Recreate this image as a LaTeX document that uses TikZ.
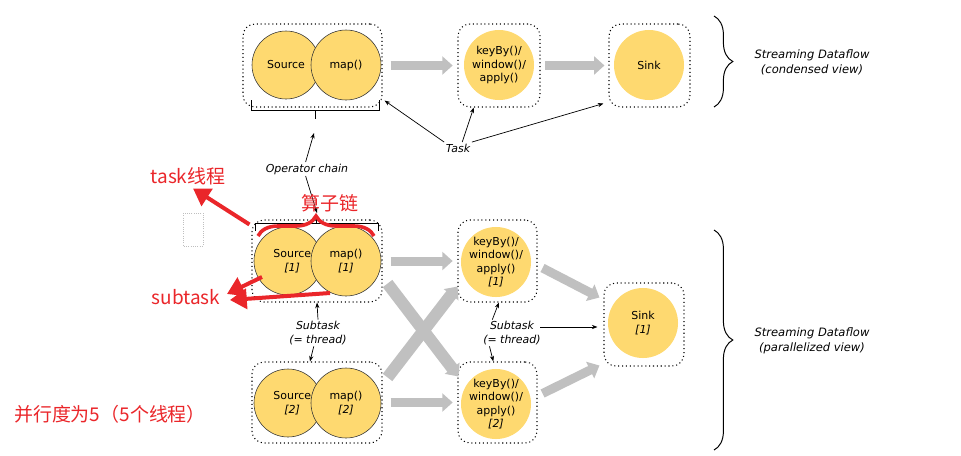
\documentclass[tikz,border=0pt]{standalone}
\usepackage{fontspec}
\setmainfont{DejaVu Sans}
\newfontfamily\cjk{Noto Sans CJK SC}
\usetikzlibrary{positioning,calc,arrows.meta,decorations.pathreplacing}

\definecolor{opyellow}{RGB}{254,217,112}
\definecolor{flowgray}{RGB}{192,192,192}
\definecolor{markred}{RGB}{234,38,42}

\tikzset{
    taskbox/.style={draw, dotted, line width=0.75pt, rounded corners=0.3cm,
        minimum width=2.05cm, minimum height=2.075cm, inner sep=0pt},
    opcircle/.style={circle, fill=opyellow, minimum size=1.75cm, inner sep=0pt},
    opring/.style={opcircle, draw=black!80, line width=0.4pt},
    optext/.style={align=center, inner sep=0pt, font=\fontsize{7.8}{9.6}\selectfont},
    lbl/.style={align=center, inner sep=1pt, font=\fontsize{7.8}{9.6}\selectfont\itshape},
    viewlbl/.style={align=center, inner sep=1pt, font=\fontsize{8.2}{10.5}\selectfont\itshape},
    flowarrow/.style={draw=flowgray, line width=0.225cm,
        -{Triangle[width=0.45cm, length=0.26cm]}},
    crossarrow/.style={flowarrow, line width=0.3cm},
    pointer/.style={-{Stealth[length=4pt, width=3pt]}, line width=0.5pt},
    rbrace/.style={decorate, decoration={brace, amplitude=0.47cm}, line width=0.7pt},
    redtext/.style={inner sep=1pt, text=markred, font=\fontsize{13.5}{15}\selectfont\cjk},
    redarrow/.style={draw=markred, line width=0.1cm,
        -{Triangle[width=0.5cm, length=0.42cm]}},
}

\begin{document}
\begin{tikzpicture}[x=0.025cm, y=-0.025cm]
    \useasboundingbox (0,0) rectangle (961,455);

    % condensed view
    \node[taskbox, minimum width=3.475cm] (chainbox) at (312.5,65.5) {};
    \node[taskbox] (kbbox) at (499,65.5) {};
    \node[taskbox, minimum width=2.025cm] (sinkbox) at (649.5,65.5) {};

    \node[opring, minimum size=1.7cm] (src) at (286,65) {};
    \node[opring] (map) at (346,65) {};
    \node[optext] at (src) {Source};
    \node[optext] at (map) {map()};
    \node[opcircle] (kb) at (499,65) {};
    \node[optext] at (kb) {keyBy()/\\window()/\\apply()};
    \node[opcircle] (sink) at (649,65) {};
    \node[optext] at (sink) {Sink};

    \draw[flowarrow, shorten <=0.2cm, shorten >=0.12cm] (chainbox.east) -- (kbbox.west);
    \draw[flowarrow, shorten <=0.12cm, shorten >=0.1cm] (kbbox.east) -- (sinkbox.west);

    \draw[line width=0.7pt] (251,100) -- (251,110) -- (379,110) -- (379,100);
    \draw[line width=0.7pt] (315,110) -- (315,119);

    \draw[rbrace] (714,16) -- (714,107);
    \node[viewlbl] (condlbl) at (812,62) {Streaming Dataflow\\(condensed view)};

    \node[lbl] (tasklbl) at (458,148) {Task};
    \draw[pointer] (tasklbl.north west) -- ([shift={(2,-7)}]chainbox.south east);
    \draw[pointer] ([xshift=3pt]tasklbl.north) -- ([xshift=-18]kbbox.south);
    \draw[pointer] (tasklbl.north east) -- ([shift={(-5,-4)}]sinkbox.south west);

    \node[lbl] (chainlbl) at (307,169) {Operator chain};
    \draw[pointer] ([xshift=-1]chainlbl.north) -- (314,133);
    \draw[pointer] ([xshift=-1]chainlbl.south) -- (317,213);

    % parallelized view
    \node[taskbox, minimum width=3.25cm, minimum height=2.05cm] (srcbox1) at (317,261) {};
    \node[taskbox, minimum width=3.25cm, minimum height=2.025cm] (srcbox2) at (317,402.5) {};
    \node[taskbox, minimum width=1.975cm, minimum height=2.05cm] (kbbox1) at (497.5,261) {};
    \node[taskbox, minimum width=1.975cm, minimum height=2.025cm] (kbbox2) at (497.5,402.5) {};
    \node[taskbox, minimum width=2cm] (sinkbox1) at (644,324.5) {};

    \node[opring, minimum size=1.7cm] (src1) at (288,261) {};
    \node[opring] (map1) at (346,261) {};
    \node[optext] at ([xshift=3]src1) {Source\\\textit{[1]}};
    \node[optext] at (map1) {map()\\\textit{[1]}};
    \node[opring, minimum size=1.7cm] (src2) at (288,403) {};
    \node[opring] (map2) at (346,403) {};
    \node[optext] at ([xshift=3]src2) {Source\\\textit{[2]}};
    \node[optext] at (map2) {map()\\\textit{[2]}};

    \node[opcircle] (kb1) at (496,262) {};
    \node[optext] at (kb1) {keyBy()/\\window()/\\apply()\\\textit{[1]}};
    \node[opcircle] (kb2) at (496,404) {};
    \node[optext] at (kb2) {keyBy()/\\window()/\\apply()\\\textit{[2]}};
    \node[opcircle] (sink1) at (643,323) {};
    \node[optext] at (sink1) {Sink\\\textit{[1]}};

    \draw[flowarrow, shorten <=0.2cm, shorten >=0.12cm] (srcbox1.east) -- (kbbox1.west);
    \draw[flowarrow, shorten <=0.2cm, shorten >=0.12cm] (srcbox2.east) -- (kbbox2.west);
    \draw[crossarrow] ([shift={(5,-19)}]srcbox1.south east) -- ([shift={(1,15)}]kbbox2.north west);
    \draw[crossarrow] ([shift={(5,16)}]srcbox2.north east) -- ([shift={(0,-16)}]kbbox1.south west);
    \draw[flowarrow] ([shift={(5,7)}]kbbox1.east) -- ([shift={(-4,-27)}]sinkbox1.west);
    \draw[flowarrow] ([shift={(5,-9)}]kbbox2.east) -- ([shift={(-4,41)}]sinkbox1.west);

    \node[lbl] (sublbl1) at (318,333) {Subtask\\(= thread)};
    \draw[pointer] (sublbl1.north) -- (srcbox1.south);
    \draw[pointer] ([xshift=-3]sublbl1.south) -- ([xshift=-5]srcbox2.north);
    \node[lbl] (sublbl2) at (512,333) {Subtask\\(= thread)};
    \draw[pointer] ([xshift=-14]sublbl2.north) -- ([xshift=1]kbbox1.south);
    \draw[pointer] ([xshift=-16]sublbl2.south) -- ([xshift=-3]kbbox2.north);
    \draw[pointer] ([shift={(-2,-6)}]sublbl2.east) -- ($(sublbl2.east -| sinkbox1.west)+(-6,-6)$);

    \draw[rbrace] (714,230) -- (714,450);
    \node[viewlbl] (paralbl) at (812,341) {Streaming Dataflow\\(parallelized view)};

    \draw[line width=0.7pt] (255,231) -- (255,223) -- (378,223) -- (378,231);
    \draw[line width=0.7pt] (316,223) -- (316,214);

    % red marks
    \draw[gray!50, densely dotted, line width=0.6pt] (183,213) rectangle (203,246);

    \node[redtext] (threadlbl) at (188,176) {task线程};
    \node[redtext] (chainred) at (330,203) {算子链};
    \node[redtext] (subtaskred) at (186,297) {subtask};
    \node[redtext] (parared) at (110,414) {并行度为5（5个线程）};

    \draw[markred, line width=0.09cm, decorate, decoration={brace, amplitude=0.5cm}]
        (258,236) -- (374,236);
    \draw[redarrow] ([shift={(-2,5)}]srcbox1.north west) -- ([shift={(5,2)}]threadlbl.south);
    \draw[redarrow] ([shift={(-26,16)}]src1.center) -- ([shift={(5,-3)}]subtaskred.east);
    \draw[redarrow] ([shift={(-16,32)}]map1.center) -- ([shift={(8,3)}]subtaskred.east);
\end{tikzpicture}
\end{document}
